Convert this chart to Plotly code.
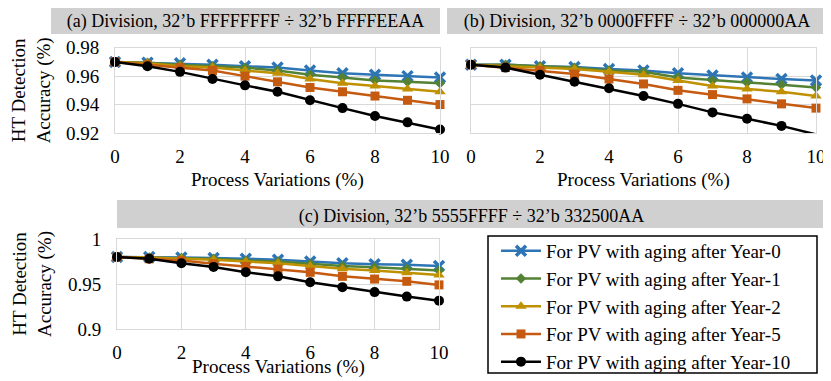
import plotly.graph_objects as go

W, H = 831, 381

pv = [0, 1, 2, 3, 4, 5, 6, 7, 8, 9, 10]
series_names = ["For PV with aging after Year-0", "For PV with aging after Year-1",
                "For PV with aging after Year-2", "For PV with aging after Year-5",
                "For PV with aging after Year-10"]

# (a) FFFFFFFF / FFFFEEAA
a_year0 = [0.970, 0.9695, 0.969, 0.968, 0.967, 0.966, 0.964, 0.962, 0.961, 0.960, 0.959]
a_year1 = [0.970, 0.9695, 0.968, 0.967, 0.966, 0.964, 0.961, 0.959, 0.957, 0.956, 0.955]
a_year2 = [0.970, 0.969, 0.967, 0.966, 0.964, 0.962, 0.958, 0.955, 0.953, 0.951, 0.949]
a_year5 = [0.970, 0.968, 0.966, 0.964, 0.960, 0.956, 0.952, 0.949, 0.946, 0.943, 0.940]
a_year10 = [0.970, 0.967, 0.963, 0.958, 0.9535, 0.949, 0.943, 0.9375, 0.932, 0.9275, 0.9225]

# (b) 0000FFFF / 000000AA
b_year0 = [0.968, 0.968, 0.967, 0.9665, 0.965, 0.964, 0.962, 0.9605, 0.959, 0.958, 0.957]
b_year1 = [0.968, 0.968, 0.967, 0.966, 0.964, 0.963, 0.959, 0.957, 0.9555, 0.954, 0.952]
b_year2 = [0.968, 0.967, 0.966, 0.965, 0.963, 0.961, 0.957, 0.953, 0.951, 0.949, 0.946]
b_year5 = [0.968, 0.966, 0.964, 0.9615, 0.958, 0.9545, 0.950, 0.947, 0.944, 0.9405, 0.9375]
b_year10 = [0.968, 0.966, 0.961, 0.956, 0.9515, 0.946, 0.9405, 0.9345, 0.930, 0.925, 0.919]

# (c) 5555FFFF / 332500AA
c_year0 = [0.980, 0.980, 0.9795, 0.979, 0.978, 0.977, 0.975, 0.973, 0.972, 0.9715, 0.970]
c_year1 = [0.980, 0.9795, 0.979, 0.978, 0.976, 0.975, 0.9725, 0.970, 0.9685, 0.967, 0.965]
c_year2 = [0.980, 0.9795, 0.978, 0.977, 0.975, 0.973, 0.970, 0.967, 0.965, 0.9625, 0.960]
c_year5 = [0.980, 0.978, 0.976, 0.9725, 0.9695, 0.9665, 0.963, 0.9585, 0.9555, 0.953, 0.949]
c_year10 = [0.980, 0.978, 0.973, 0.969, 0.963, 0.9585, 0.952, 0.9465, 0.941, 0.936, 0.9315]

titles = ["(a) Division, 32\u2019b FFFFFFFF \u00f7 32\u2019b FFFFEEAA",
          "(b) Division, 32\u2019b 0000FFFF \u00f7 32\u2019b 000000AA",
          "(c) Division, 32\u2019b 5555FFFF \u00f7 32\u2019b 332500AA"]

colors = ["#2E75B6", "#548235", "#BF9000", "#C55A11", "#000000"]
symbols = ["x-thin-open", "diamond", "triangle-up", "square", "circle"]
sizes = [9, 8, 10, 9, 10]

FONT = "Liberation Serif, DejaVu Serif, serif"
FS = 19

# the page puts the plot 8px in from the top-left corner, so draw a slightly smaller figure
OFF = 8
FW, FH = W - OFF, H - OFF

fig = go.Figure()

panels = [
    ([a_year0, a_year1, a_year2, a_year5, a_year10], "x", "y", False),
    ([b_year0, b_year1, b_year2, b_year5, b_year10], "x2", "y2", False),
    ([c_year0, c_year1, c_year2, c_year5, c_year10], "x3", "y3", True),
]

for data, xa, ya, show in panels:
    for i, vals in enumerate(data):
        mk = dict(symbol=symbols[i], size=sizes[i], color=colors[i])
        if i == 0:
            mk = dict(symbol="x-thin-open", size=10, color=colors[i], line=dict(width=3.5, color=colors[i]))
        fig.add_trace(go.Scatter(x=pv, y=vals, xaxis=xa, yaxis=ya, name=series_names[i],
                                 mode="lines+markers", showlegend=show, cliponaxis=False,
                                 line=dict(color=colors[i], width=2.5), marker=mk))

def px(x):
    return (x - OFF) / FW

def py(y):
    return 1 - (y - OFF) / FH

grid = "#D9D9D9"
xcommon = dict(range=[0, 10], dtick=2, showgrid=True, gridcolor=grid, showline=True, mirror=True,
               linecolor=grid, zeroline=False, ticks="", ticklabelstandoff=6,
               ticklabeloverflow="allow",
               tickfont=dict(family=FONT, size=FS, color="black"))
ycommon = dict(showgrid=True, gridcolor=grid, showline=True, mirror=True, linecolor=grid,
               zeroline=False, ticks="", ticklabelstandoff=11,
               tickfont=dict(family=FONT, size=FS, color="black"))
ytitle = dict(text="HT Detection<br>Accuracy (%)", font=dict(family=FONT, size=FS, color="black"), standoff=11)

fig.update_layout(
    width=FW, height=FH, margin=dict(l=0, r=0, t=0, b=0, autoexpand=False),
    paper_bgcolor="white", plot_bgcolor="white",
    font=dict(family=FONT, color="black"),
    xaxis=dict(domain=[px(115), px(440)], anchor="y", **xcommon),
    yaxis=dict(domain=[py(133), py(47.7)], anchor="x", range=[0.92, 0.98], dtick=0.02,
               title=ytitle, **ycommon),
    xaxis2=dict(domain=[px(471), px(816)], anchor="y2", **xcommon),
    yaxis2=dict(domain=[py(133), py(47.7)], anchor="x2", range=[0.92, 0.98], dtick=0.02,
                showticklabels=False, **ycommon),
    xaxis3=dict(domain=[px(117), px(439)], anchor="y3", **xcommon),
    yaxis3=dict(domain=[py(329), py(239)], anchor="x3", range=[0.9, 1.0], dtick=0.05,
                title=ytitle, **ycommon),
    legend=dict(x=px(496), y=py(232), xanchor="left", yanchor="top",
                borderwidth=0, bgcolor="rgba(0,0,0,0)",
                font=dict(family=FONT, size=FS, color="black"),
                itemwidth=40, tracegroupgap=0),
)

# legend frame
fig.add_shape(type="rect", xref="paper", yref="paper", x0=px(488), x1=px(817), y0=py(373), y1=py(236),
              line=dict(color="black", width=1.5), fillcolor="white", layer="below")

# gray title boxes, text as shape label
boxes = [(51, 440, 4, 34), (447, 827, 4, 34), (117, 826, 200, 228)]
for (x0, x1, y0, y1), t in zip(boxes, titles):
    fig.add_shape(type="rect", xref="paper", yref="paper", x0=px(x0), x1=px(x1), y0=py(y1), y1=py(y0),
                  fillcolor="#D0D0D0", line=dict(width=0), layer="below",
                  label=dict(text=t, textposition="middle center",
                             font=dict(family=FONT, size=18, color="black")))

# x axis titles
for cx, cy in [(277, 180), (643, 180), (278, 367)]:
    fig.add_annotation(text="Process Variations (%)", xref="paper", yref="paper", x=px(cx), y=py(cy),
                       xanchor="center", yanchor="middle",
                       showarrow=False, font=dict(family=FONT, size=FS, color="black"))

fig.write_html("out.html")
